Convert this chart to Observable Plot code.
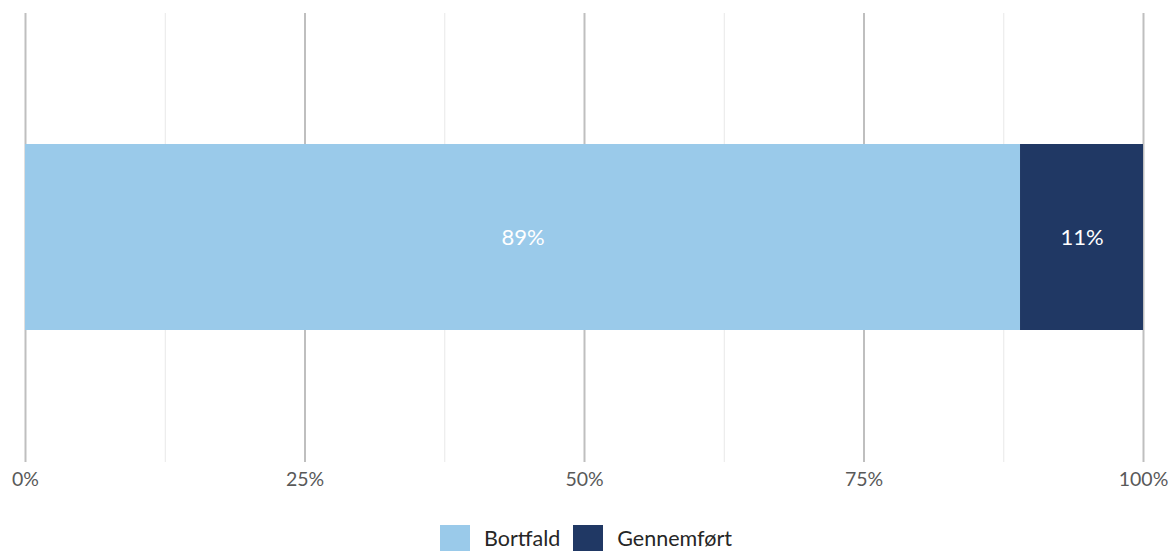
<!DOCTYPE html>
<html>
<head>
<meta charset="utf-8">
<script src="https://cdn.jsdelivr.net/npm/d3@7"></script>
<script src="https://cdn.jsdelivr.net/npm/@observablehq/plot@0.6"></script>
<style>
  body { margin: 0; background: #fff; font-family: Lato, "Open Sans", sans-serif; overflow: hidden; }
  #chart svg { display: block; }
  .legend { display: flex; justify-content: center; align-items: center; gap: 0; margin-top: 25px; font-size: 21.5px; color: #262626; }
  .legend .item { display: flex; align-items: center; margin: 0 6.5px; }
  .legend .sw { width: 30px; height: 26px; margin-right: 14px; }
</style>
</head>
<body>
<div id="chart"></div>
<div class="legend" id="legend"></div>
<script>
const categories = ["Bortfald", "Gennemført"];
const values = [89, 11];
const colors = ["#9ACAEA", "#203864"];
const majorTicks = [0, 25, 50, 75, 100];
const minorTicks = [12.5, 37.5, 62.5, 87.5];
const tickLabels = ["0%", "25%", "50%", "75%", "100%"];

const rows = categories.map((c, i) => ({ group: "all", category: c, value: values[i] }));

const chart = Plot.plot({
  width: 1172,
  height: 500,
  marginLeft: 25,
  marginRight: 29,
  marginTop: 13,
  marginBottom: 38,
  style: { fontFamily: "Lato, 'Open Sans', sans-serif", fontSize: "19.5px", color: "#595959" },
  x: { domain: [0, 100], ticks: majorTicks, tickFormat: d => tickLabels[majorTicks.indexOf(d)], tickSize: 0, tickPadding: 10, label: null },
  y: { domain: ["all"], padding: 0.412, axis: null },
  color: { domain: categories, range: colors },
  marks: [
    Plot.ruleX(minorTicks, { stroke: "#e8e8e8", strokeWidth: 1 }),
    Plot.ruleX(majorTicks, { stroke: "#bfbfbf", strokeWidth: 2 }),
    Plot.barX(rows, Plot.stackX({ x: "value", y: "group", fill: "category" })),
    Plot.text(rows, Plot.stackX({ x: "value", y: "group", z: "category", text: d => d.value + "%", fill: "white", fontSize: 22 }))
  ]
});
document.getElementById("chart").appendChild(chart);

const legend = document.getElementById("legend");
categories.forEach((c, i) => {
  const item = document.createElement("div");
  item.className = "item";
  const sw = document.createElement("div");
  sw.className = "sw";
  sw.style.background = colors[i];
  const label = document.createElement("span");
  label.textContent = c;
  item.appendChild(sw);
  item.appendChild(label);
  legend.appendChild(item);
});
</script>
</body>
</html>
